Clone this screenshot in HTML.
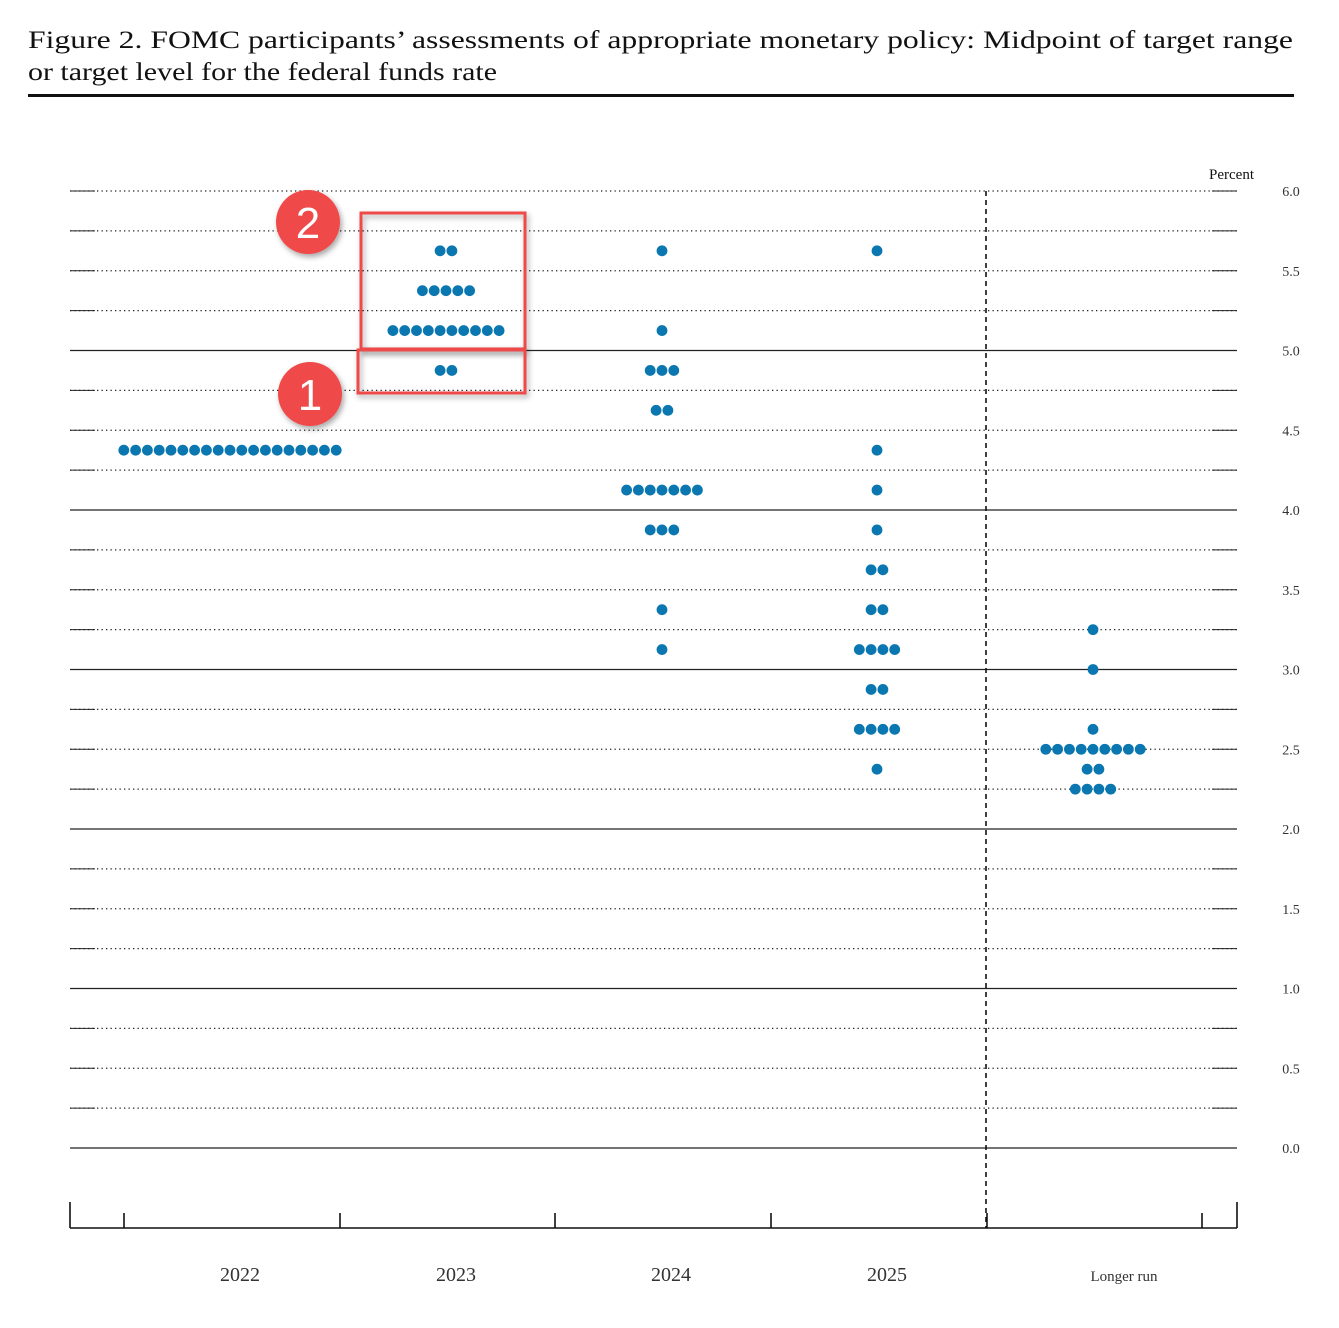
<!DOCTYPE html>
<html><head><meta charset="utf-8"><style>
body{margin:0;background:#fff;}
svg text{font-family:"Liberation Serif",serif;}
</style></head><body>
<svg width="1339" height="1323" xmlns="http://www.w3.org/2000/svg">
<defs><filter id="sh" x="-30%" y="-30%" width="160%" height="160%"><feDropShadow dx="2" dy="3" stdDeviation="3" flood-color="#000" flood-opacity="0.35"/></filter></defs>
<text x="28" y="48" font-size="25" fill="#111" textLength="1265" lengthAdjust="spacingAndGlyphs">Figure 2.  FOMC participants’ assessments of appropriate monetary policy:  Midpoint of target range</text>
<text x="28" y="80" font-size="25" fill="#111" textLength="469" lengthAdjust="spacingAndGlyphs">or target level for the federal funds rate</text>
<rect x="28" y="94" width="1266" height="3" fill="#111"/>
<text x="1254" y="179" font-size="15" text-anchor="end" fill="#111">Percent</text>
<g id="grid"></g>
<g id="dots"></g>
<line x1="986" y1="191" x2="986" y2="1228" stroke="#111" stroke-width="1.6" stroke-dasharray="5,4"/>
<g id="xaxis" stroke="#111" stroke-width="1.6">
<line x1="70" y1="1228" x2="1237" y2="1228"/>
<line x1="70" y1="1202" x2="70" y2="1228"/><line x1="1237" y1="1202" x2="1237" y2="1228"/>
<line x1="124" y1="1213" x2="124" y2="1228"/><line x1="340" y1="1213" x2="340" y2="1228"/><line x1="555" y1="1213" x2="555" y2="1228"/><line x1="771" y1="1213" x2="771" y2="1228"/><line x1="987" y1="1213" x2="987" y2="1228"/><line x1="1202" y1="1213" x2="1202" y2="1228"/>
</g>
<g id="xlabels"></g>
<rect x="361" y="213" width="164" height="136" fill="none" stroke="#f04848" stroke-width="3" filter="url(#sh)"/>
<rect x="358" y="350" width="167" height="43" fill="none" stroke="#f04848" stroke-width="3" filter="url(#sh)"/>
<g><circle cx="308" cy="222" r="32" fill="#f04848" filter="url(#sh)"/><text x="308" y="238" font-size="44" fill="#fff" text-anchor="middle" style="font-family:'Liberation Sans',sans-serif">2</text></g>
<g><circle cx="310" cy="394" r="32" fill="#f04848" filter="url(#sh)"/><text x="310" y="410" font-size="44" fill="#fff" text-anchor="middle" style="font-family:'Liberation Sans',sans-serif">1</text></g>
</svg>
<script>
const categories=["2022","2023","2024","2025","Longer run"];
const categoryCenters=[230,446,662,877,1093];
const rates2022=[4.375];const counts2022=[19];
const rates2023=[5.625,5.375,5.125,4.875];const counts2023=[2,5,10,2];
const rates2024=[5.625,5.125,4.875,4.625,4.125,3.875,3.375,3.125];const counts2024=[1,1,3,2,7,3,1,1];
const rates2025=[5.625,4.375,4.125,3.875,3.625,3.375,3.125,2.875,2.625,2.375];const counts2025=[1,1,1,1,2,2,4,2,4,1];
const ratesLR=[3.25,3.0,2.625,2.5,2.375,2.25];const countsLR=[1,1,1,9,2,4];
const yTicks=["0.0","0.5","1.0","1.5","2.0","2.5","3.0","3.5","4.0","4.5","5.0","5.5","6.0"];
const NS="http://www.w3.org/2000/svg";
function y(v){return 1148-v*159.5;}
function mk(t,a,p){const e=document.createElementNS(NS,t);for(const k in a)e.setAttribute(k,a[k]);p.appendChild(e);return e;}
const grid=document.getElementById('grid');
for(let i=0;i<=24;i++){const v=i*0.25,yy=y(v);const solid=(i%4==0&&i<24);
 const l=mk('line',{x1:70,x2:1237,y1:yy,y2:yy,stroke:'#222','stroke-width':solid?1.2:1.3,'stroke-dasharray':solid?'none':'1.3,3.2'},grid);
 
 
 if(!solid){mk('line',{x1:70,x2:95,y1:yy,y2:yy,stroke:'#222','stroke-width':1},grid);mk('line',{x1:1212,x2:1237,y1:yy,y2:yy,stroke:'#222','stroke-width':1},grid);}
}
yTicks.forEach(t=>{const tx=mk('text',{x:1291,y:y(parseFloat(t))+5,'font-size':14,'text-anchor':'middle',fill:'#333'},grid);tx.textContent=t;
 
 });
const xl=document.getElementById('xlabels');
const lblX=[240,456,671,887,1124];
categories.forEach((c,i)=>{const tx=mk('text',{x:lblX[i],y:1281,'font-size':i==4?15:20,'text-anchor':'middle',fill:'#333'},xl);tx.textContent=c;
 
 });
const dots=document.getElementById('dots');
const allR=[rates2022,rates2023,rates2024,rates2025,ratesLR],allC=[counts2022,counts2023,counts2024,counts2025,countsLR];
allR.forEach((rs,ci)=>rs.forEach((r,j)=>{const n=allC[ci][j];const cx=categoryCenters[ci];
 for(let k=0;k<n;k++){const c=mk('circle',{cx:cx+(k-(n-1)/2)*11.8,cy:y(r),r:5.4,fill:'#0a77b0'},dots);
 
 }}));
</script>
</body></html>
